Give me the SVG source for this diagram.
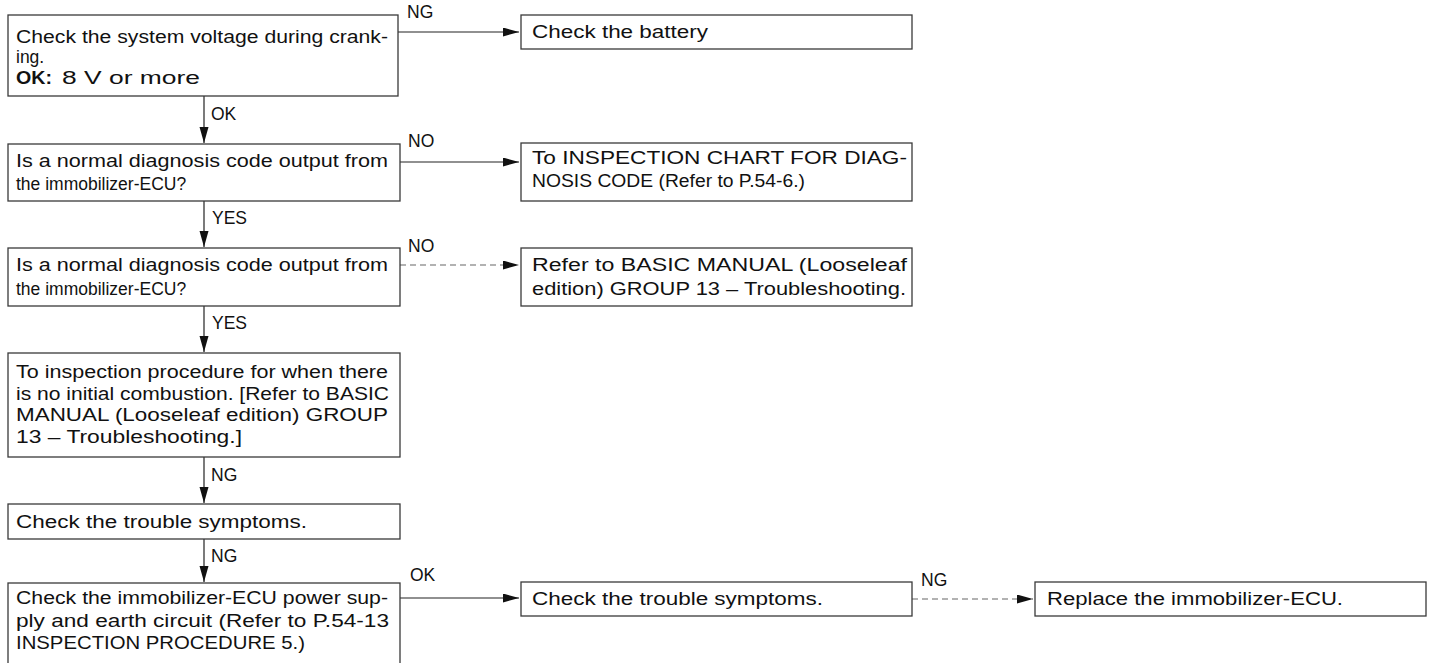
<svg xmlns="http://www.w3.org/2000/svg" width="1437" height="663" viewBox="0 0 1437 663">
<style>
  .box { fill: #fff; stroke: #3a3a3a; stroke-width: 1.3; }
  .t { font-family: "Liberation Sans", Arial, sans-serif; font-size: 17.5px; fill: #111; }
  .b { font-weight: bold; }
  .ln { stroke: #222; stroke-width: 1.2; fill: none; }
  .dash { stroke: #666; stroke-dasharray: 6 4; }
</style>
<defs>
  <marker id="ah" markerUnits="userSpaceOnUse" markerWidth="17" markerHeight="10" refX="16" refY="4.5" orient="auto">
    <path d="M0,0 L16,4.5 L0,9 z" fill="#111"/>
  </marker>
</defs>
<rect width="1437" height="663" fill="#fff"/>

<g id="connectors">
  <line class="ln" x1="398" y1="32" x2="519" y2="32" marker-end="url(#ah)"/>
  <line class="ln" x1="204" y1="96" x2="204" y2="143" marker-end="url(#ah)"/>
  <line class="ln" x1="400" y1="162" x2="519" y2="162" marker-end="url(#ah)"/>
  <line class="ln" x1="204" y1="201" x2="204" y2="247" marker-end="url(#ah)"/>
  <line class="ln dash" x1="400" y1="265" x2="519" y2="265" marker-end="url(#ah)"/>
  <line class="ln" x1="204" y1="306" x2="204" y2="352" marker-end="url(#ah)"/>
  <line class="ln" x1="204" y1="457" x2="204" y2="503" marker-end="url(#ah)"/>
  <line class="ln" x1="204" y1="539" x2="204" y2="582" marker-end="url(#ah)"/>
  <line class="ln" x1="400" y1="598" x2="519" y2="598" marker-end="url(#ah)"/>
  <line class="ln dash" x1="912" y1="599" x2="1033" y2="599" marker-end="url(#ah)"/>
  <text class="t" x="407" y="18">NG</text>
  <text class="t" x="211" y="120">OK</text>
  <text class="t" x="408" y="147">NO</text>
  <text class="t" x="212" y="224">YES</text>
  <text class="t" x="408" y="252">NO</text>
  <text class="t" x="212" y="329">YES</text>
  <text class="t" x="211" y="481">NG</text>
  <text class="t" x="211" y="562">NG</text>
  <text class="t" x="410" y="581">OK</text>
  <text class="t" x="921" y="586">NG</text>
</g>

<g id="n1">
  <rect class="box" x="8" y="15" width="390" height="81"/>
  <text class="t" x="16" y="43" textLength="372" lengthAdjust="spacingAndGlyphs">Check the system voltage during crank-</text>
  <text class="t" x="16" y="63">ing.</text>
  <text class="t b" x="16" y="84" textLength="36" lengthAdjust="spacingAndGlyphs">OK:</text>
  <text class="t" x="62" y="84" textLength="138" lengthAdjust="spacingAndGlyphs">8 V or more</text>
</g>

<g id="n2">
  <rect class="box" x="521" y="15" width="391" height="34"/>
  <text class="t" x="532" y="38" textLength="176" lengthAdjust="spacingAndGlyphs">Check the battery</text>
</g>

<g id="n3">
  <rect class="box" x="8" y="144" width="392" height="57"/>
  <text class="t" x="16" y="167" textLength="372" lengthAdjust="spacingAndGlyphs">Is a normal diagnosis code output from</text>
  <text class="t" x="16" y="190">the immobilizer-ECU?</text>
</g>

<g id="n4">
  <rect class="box" x="521" y="143" width="391" height="58"/>
  <text class="t" x="532" y="164" textLength="375" lengthAdjust="spacingAndGlyphs">To INSPECTION CHART FOR DIAG-</text>
  <text class="t" x="532" y="187" textLength="273" lengthAdjust="spacingAndGlyphs">NOSIS CODE (Refer to P.54-6.)</text>
</g>

<g id="n5">
  <rect class="box" x="8" y="248" width="392" height="58"/>
  <text class="t" x="16" y="271" textLength="372" lengthAdjust="spacingAndGlyphs">Is a normal diagnosis code output from</text>
  <text class="t" x="16" y="295">the immobilizer-ECU?</text>
</g>

<g id="n6">
  <rect class="box" x="521" y="248" width="391" height="58"/>
  <text class="t" x="532" y="271" textLength="375" lengthAdjust="spacingAndGlyphs">Refer to BASIC MANUAL (Looseleaf</text>
  <text class="t" x="532" y="295" textLength="374" lengthAdjust="spacingAndGlyphs">edition) GROUP 13 – Troubleshooting.</text>
</g>

<g id="n7">
  <rect class="box" x="8" y="353" width="392" height="104"/>
  <text class="t" x="16" y="378" textLength="372" lengthAdjust="spacingAndGlyphs">To inspection procedure for when there</text>
  <text class="t" x="16" y="400" textLength="373" lengthAdjust="spacingAndGlyphs">is no initial combustion. [Refer to BASIC</text>
  <text class="t" x="16" y="421" textLength="372" lengthAdjust="spacingAndGlyphs">MANUAL (Looseleaf edition) GROUP</text>
  <text class="t" x="16" y="443" textLength="226" lengthAdjust="spacingAndGlyphs">13 – Troubleshooting.]</text>
</g>

<g id="n8">
  <rect class="box" x="8" y="504" width="392" height="35"/>
  <text class="t" x="16" y="528" textLength="291" lengthAdjust="spacingAndGlyphs">Check the trouble symptoms.</text>
</g>

<g id="n9">
  <rect class="box" x="8" y="583" width="392" height="90"/>
  <text class="t" x="16" y="604" textLength="372" lengthAdjust="spacingAndGlyphs">Check the immobilizer-ECU power sup-</text>
  <text class="t" x="16" y="627" textLength="373" lengthAdjust="spacingAndGlyphs">ply and earth circuit (Refer to P.54-13</text>
  <text class="t" x="16" y="649" textLength="289" lengthAdjust="spacingAndGlyphs">INSPECTION PROCEDURE 5.)</text>
</g>

<g id="n10">
  <rect class="box" x="521" y="582" width="391" height="34"/>
  <text class="t" x="532" y="605" textLength="291" lengthAdjust="spacingAndGlyphs">Check the trouble symptoms.</text>
</g>

<g id="n11">
  <rect class="box" x="1035" y="582" width="391" height="34"/>
  <text class="t" x="1047" y="605" textLength="296" lengthAdjust="spacingAndGlyphs">Replace the immobilizer-ECU.</text>
</g>
</svg>
